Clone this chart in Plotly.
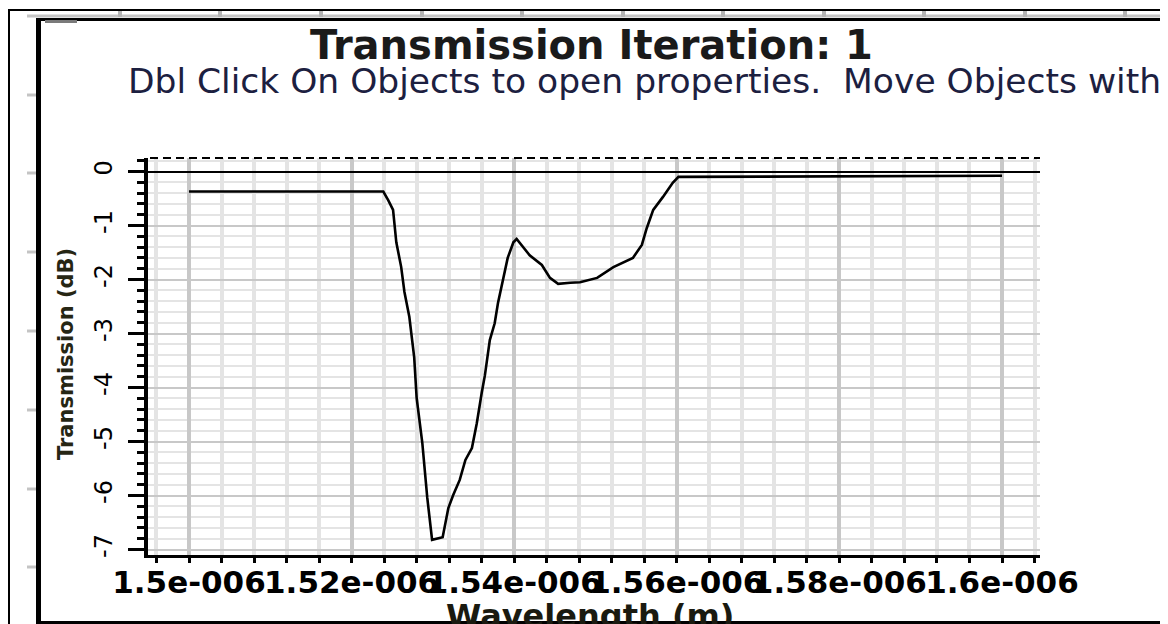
import plotly.graph_objects as go

# ---------------- data ----------------
wavelength_m = [1.5000e-6, 1.5239e-6, 1.5245e-6, 1.5251e-6, 1.5255e-6, 1.5261e-6, 1.5265e-6,
                1.5271e-6, 1.5277e-6, 1.5280e-6, 1.5287e-6, 1.5293e-6, 1.5299e-6, 1.5312e-6,
                1.5319e-6, 1.5325e-6, 1.5333e-6, 1.5340e-6, 1.5348e-6, 1.5354e-6, 1.5360e-6,
                1.5364e-6, 1.5370e-6, 1.5376e-6, 1.5380e-6, 1.5386e-6, 1.5392e-6, 1.5399e-6,
                1.5403e-6, 1.5419e-6, 1.5434e-6, 1.5444e-6, 1.5454e-6, 1.5469e-6, 1.5481e-6,
                1.5502e-6, 1.5522e-6, 1.5546e-6, 1.5557e-6, 1.5563e-6, 1.5571e-6, 1.5583e-6,
                1.5595e-6, 1.5602e-6, 1.6000e-6]
transmission_db = [-0.37, -0.37, -0.53, -0.71, -1.31, -1.77, -2.23, -2.69, -3.44, -4.19,
                   -5.03, -6.03, -6.82, -6.77, -6.23, -5.99, -5.71, -5.34, -5.12, -4.66,
                   -4.10, -3.77, -3.12, -2.81, -2.44, -2.05, -1.60, -1.31, -1.25, -1.55,
                   -1.73, -1.97, -2.08, -2.06, -2.05, -1.97, -1.77, -1.60, -1.36, -1.05,
                   -0.71, -0.47, -0.21, -0.10, -0.08]

x_tick_vals = [1.50e-6, 1.52e-6, 1.54e-6, 1.56e-6, 1.58e-6, 1.60e-6]
x_tick_text = ["1.5e-006", "1.52e-006", "1.54e-006", "1.56e-006", "1.58e-006", "1.6e-006"]
y_tick_vals = [0, -1, -2, -3, -4, -5, -6, -7]
y_tick_text = ["0", "-1", "-2", "-3", "-4", "-5", "-6", "-7"]

title_text = "Transmission Iteration: 1"
subtitle_text = "Dbl Click On Objects to open properties.\u00a0 Move Objects with"
x_title = "Wavelength (m)"
y_title = "Transmission (dB)"

X_RANGE = [1.494957e-6, 1.604674e-6]
Y_RANGE = [-7.10, 0.25]
X_MINOR = 0.004e-6
Y_MINOR = 0.2

# ---------------- layout geometry (page pixels) ----------------
# the page body has an 8px margin, so the figure's own origin sits at (8, 8)
OFF = 8
W, H = 1168, 624
L, R, T, B = 148, 1040, 158, 555     # plot area in page pixels


def fx(px):
    return (px - L) / (R - L)


def fy(py):
    return (B - py) / (B - T)


FONT = "DejaVu Sans"
MAJOR_GRID = "#c8c8c8"
MINOR_GRID = "#e4e4e4"

fig = go.Figure()
fig.add_trace(go.Scatter(x=wavelength_m, y=transmission_db, mode="lines",
                         line=dict(color="black", width=2.6), showlegend=False,
                         hoverinfo="x+y"))

fig.update_layout(
    width=W, height=H,
    margin=dict(l=L - OFF, r=W - (R - OFF), t=T - OFF, b=H - (B - OFF), pad=0),
    paper_bgcolor="white", plot_bgcolor="white",
    showlegend=False,
    font=dict(family=FONT, color="black"),
    xaxis=dict(
        range=X_RANGE, tickmode="array", tickvals=x_tick_vals, ticktext=x_tick_text,
        tickangle=0, tickfont=dict(family=FONT, size=31, weight="bold", color="black"),
        showgrid=True, gridcolor=MAJOR_GRID, gridwidth=4,
        showline=True, linecolor="black", linewidth=3,
        ticks="outside", ticklen=5, tickwidth=3, tickcolor="black",
        ticklabelstandoff=-7,
        minor=dict(tick0=1.5e-6, dtick=X_MINOR, showgrid=True, gridcolor=MINOR_GRID,
                   gridwidth=4, ticks="outside", ticklen=5, tickwidth=3, tickcolor="black"),
        zeroline=False,
    ),
    yaxis=dict(
        range=Y_RANGE, tickmode="array", tickvals=y_tick_vals, ticktext=y_tick_text,
        tickangle=-90, tickfont=dict(family=FONT, size=24, color="black"),
        showgrid=True, gridcolor=MAJOR_GRID, gridwidth=2,
        showline=True, linecolor="black", linewidth=4,
        ticks="outside", ticklen=16, tickwidth=3, tickcolor="black",
        ticklabelstandoff=6,
        minor=dict(tick0=0, dtick=Y_MINOR, showgrid=True, gridcolor=MINOR_GRID,
                   gridwidth=2, ticks="outside", ticklen=7, tickwidth=3, tickcolor="black"),
        zeroline=True, zerolinecolor="black", zerolinewidth=2,
    ),
    yaxis2=dict(overlaying="y", anchor="x", side="left", range=Y_RANGE,
                tickmode="array", tickvals=y_tick_vals, showticklabels=False,
                ticks="inside", ticklen=10, tickwidth=3, tickcolor="black",
                showgrid=False, zeroline=False, showline=False),
    xaxis2=dict(overlaying="x", anchor="free", position=fy(171.5), side="bottom",
                range=X_RANGE, tickmode="linear", tick0=1.5e-6, dtick=X_MINOR,
                showticklabels=False, ticks="outside", ticklen=4, tickwidth=4,
                tickcolor="black", showgrid=False, zeroline=False, showline=False),
    xaxis3=dict(overlaying="x", anchor="free", position=fy(171.5), side="top",
                range=X_RANGE, tickmode="linear", tick0=1.5e-6, dtick=X_MINOR,
                showticklabels=False, ticks="outside", ticklen=4, tickwidth=4,
                tickcolor="black", showgrid=False, zeroline=False, showline=False),
    xaxis4=dict(overlaying="x", anchor="y", side="bottom",
                range=X_RANGE, tickmode="linear", tick0=1.5e-6, dtick=X_MINOR,
                showticklabels=False, ticks="inside", ticklen=3, tickwidth=3,
                tickcolor="black", showgrid=False, zeroline=False, showline=False),
)

# ---------------- text ----------------
fig.add_annotation(text=title_text, xref="paper", yref="paper", x=fx(591), y=fy(45),
                   xanchor="center", yanchor="middle", showarrow=False,
                   font=dict(family=FONT, size=40, weight="bold", color="#1a1a1a"))
fig.add_annotation(text=subtitle_text, xref="paper", yref="paper", x=fx(126), y=fy(81),
                   xanchor="left", yanchor="middle", showarrow=False,
                   font=dict(family=FONT, size=34.5, color="#1c2040"))
fig.add_annotation(text=y_title, xref="paper", yref="paper", x=fx(66), y=fy(354),
                   xanchor="center", yanchor="middle", textangle=-90, showarrow=False,
                   font=dict(family=FONT, size=21, weight="bold", color="#262614"))
fig.add_annotation(text=x_title, xref="paper", yref="paper", x=fx(590), y=fy(616),
                   xanchor="center", yanchor="middle", showarrow=False,
                   font=dict(family=FONT, size=32, weight="bold", color="#1a1a10"))

# ---------------- window frame decorations ----------------
shapes = []


def pline(x0, y0, x1, y1, color, width, dash="solid"):
    shapes.append(dict(type="line", xref="paper", yref="paper",
                       x0=fx(x0), y0=fy(y0), x1=fx(x1), y1=fy(y1),
                       line=dict(color=color, width=width, dash=dash), layer="above"))


pline(150, 158, 1040, 158, "black", 2, "8px,5px")
pline(9, 9, 9, 630, "black", 2)
pline(9, 10, 1175, 10, "black", 2)
pline(27, 16, 1175, 16, "#c4c4c4", 3)
for xn in [120, 220, 321, 422, 522, 623, 723, 824, 924, 1025, 1125]:
    pline(xn, 11, xn, 17, "#b4b4b4", 4)
for yn in [95, 173, 252, 331, 410, 489, 567]:
    pline(27, yn, 36, yn, "#c4c4c4", 3)
    pline(1163, yn, 1175, yn, "#c4c4c4", 3)
pline(38.5, 18, 38.5, 630, "black", 5)
pline(36, 19.5, 1163, 19.5, "black", 3)
pline(1161.5, 18, 1161.5, 630, "black", 3)
pline(36, 622.5, 1163, 622.5, "black", 3)
shapes.append(dict(type="rect", xref="paper", yref="paper", x0=fx(45), x1=fx(77),
                   y0=fy(23), y1=fy(20), fillcolor="#7a7a7a", line=dict(width=0),
                   layer="above"))
fig.update_layout(shapes=shapes)

fig.write_html("out.html")
